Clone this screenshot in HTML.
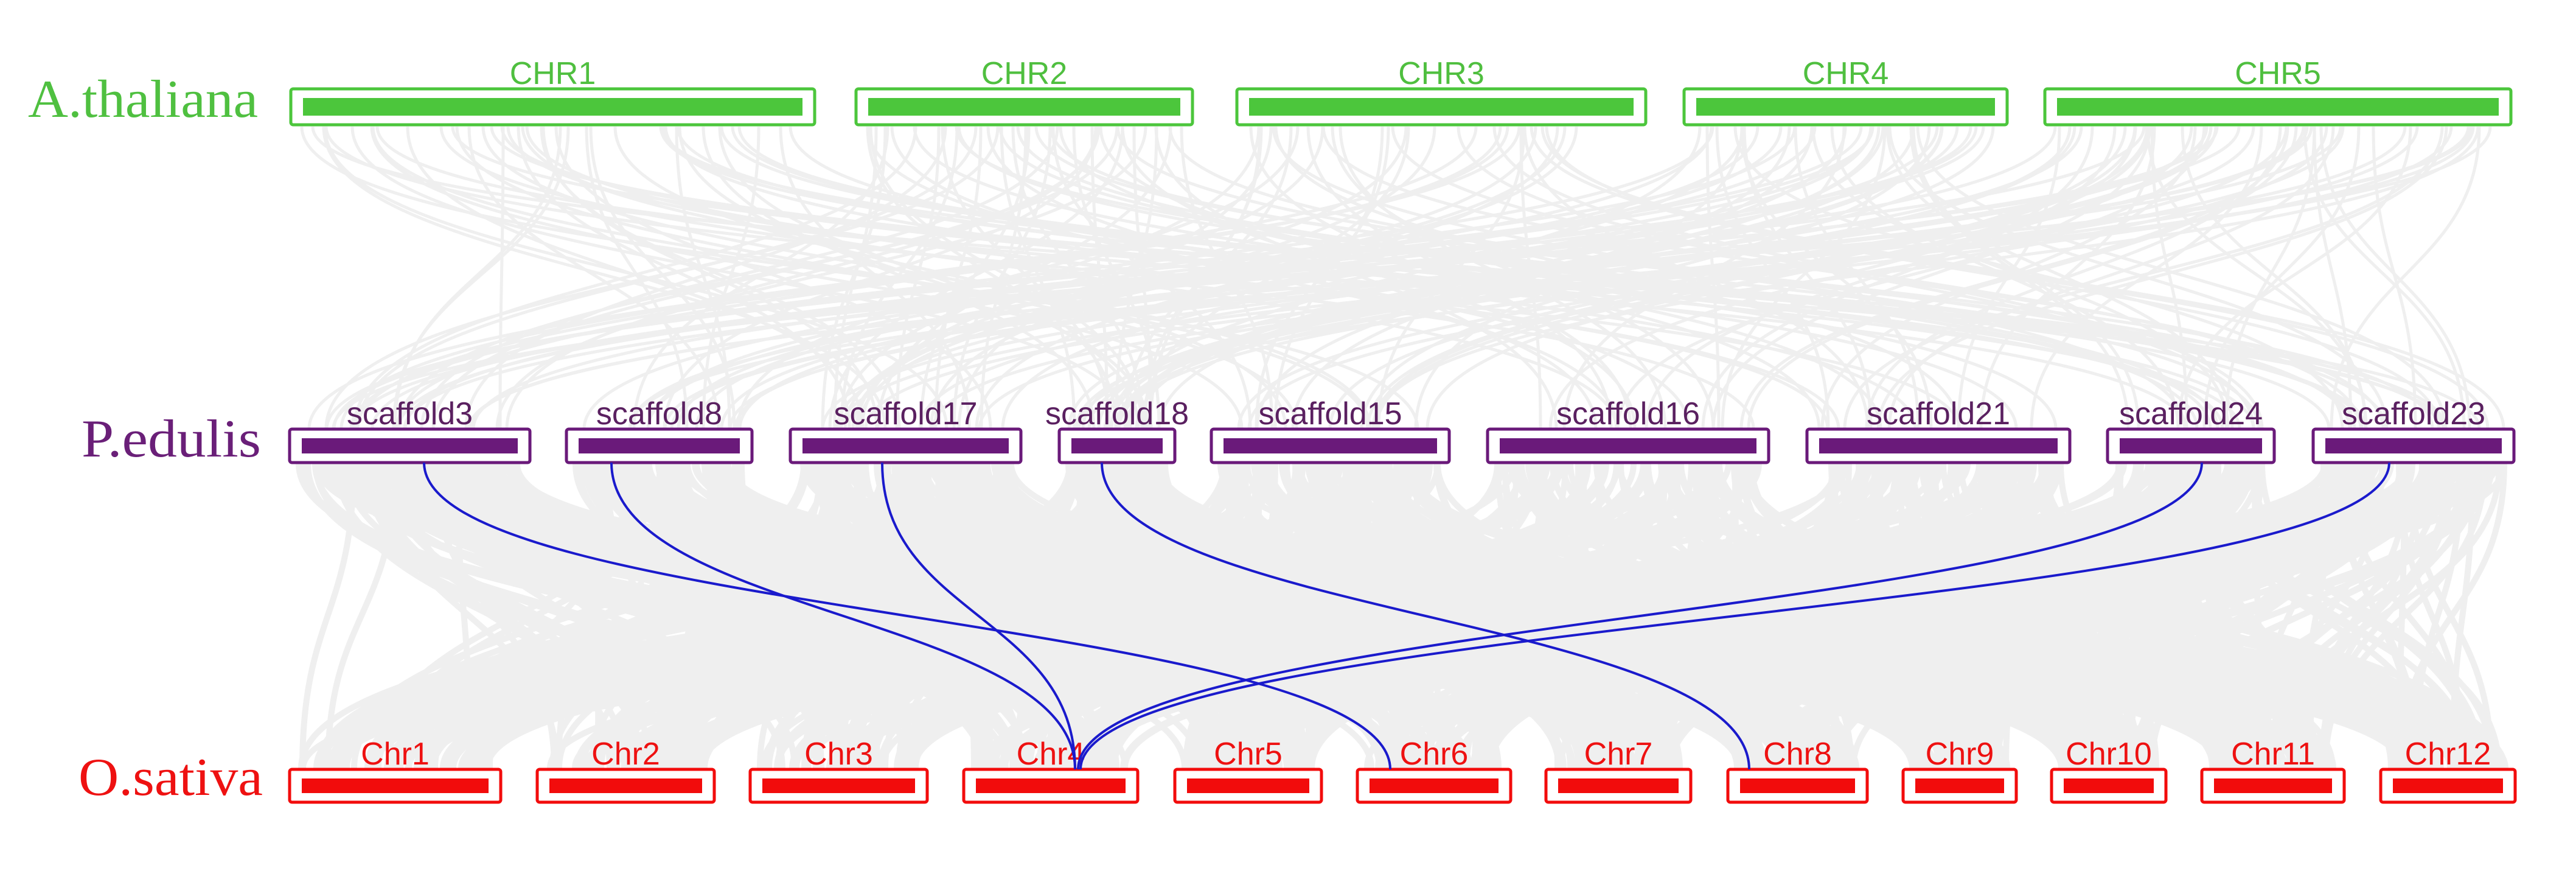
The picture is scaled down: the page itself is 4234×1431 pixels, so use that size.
<!DOCTYPE html>
<html><head><meta charset="utf-8">
<style>html,body{margin:0;padding:0;background:#fff}svg{display:block}</style>
</head><body>
<svg id="s" width="4234" height="1431" viewBox="0 0 4234 1431" xmlns="http://www.w3.org/2000/svg">
<rect width="4234" height="1431" fill="#fff"/>
<g id="gray" fill="none" stroke="#efefef" stroke-width="5"></g>
<g id="struct"></g>
<g fill="none" stroke="#1a1acc" stroke-width="4">
<path d="M697 760 C697 1012 2285 1012 2285 1264"/>
<path d="M1005 760 C1005 1012 1767 1012 1767 1264"/>
<path d="M1450 760 C1450 1012 1767 1012 1767 1264"/>
<path d="M1811 760 C1811 1012 2875 1012 2875 1264"/>
<path d="M3619 760 C3619 1012 1772 1012 1772 1264"/>
<path d="M3927 760 C3927 1012 1776 1012 1776 1264"/>
</g>
<g font-family="Liberation Serif, serif" font-size="88">
<text x="46" y="192" fill="#4fc040" textLength="378" lengthAdjust="spacingAndGlyphs">A.thaliana</text>
<text x="134" y="750" fill="#6a1f78" textLength="295" lengthAdjust="spacingAndGlyphs">P.edulis</text>
<text x="129" y="1306" fill="#ee1111" textLength="303" lengthAdjust="spacingAndGlyphs">O.sativa</text>
</g>
</svg>
<script>
(function(){
var NS="http://www.w3.org/2000/svg";
var top=[["CHR1",478,1339],["CHR2",1407,1960],["CHR3",2033,2705],["CHR4",2768,3299],["CHR5",3361,4127]];
var mid=[["scaffold3",476,871],["scaffold8",931,1236],["scaffold17",1299,1678],["scaffold18",1741,1931],["scaffold15",1991,2382],["scaffold16",2445,2907],["scaffold21",2970,3402],["scaffold24",3464,3738],["scaffold23",3802,4132]];
var bot=[["Chr1",476,823],["Chr2",883,1174],["Chr3",1233,1524],["Chr4",1584,1870],["Chr5",1931,2172],["Chr6",2231,2483],["Chr7",2541,2779],["Chr8",2840,3069],["Chr9",3128,3314],["Chr10",3372,3560],["Chr11",3619,3853],["Chr12",3913,4134]];
var seed=12345;function r(){seed=(seed*16807)%2147483647;return seed/2147483647;}
var g=document.getElementById("gray");
function pick(a){var c=a[Math.floor(r()*a.length)];return c[1]+15+r()*(c[2]-c[1]-30);}
var d="";
for(var i=0;i<230;i++){var x1=pick(top),x2=pick(mid);d+="M"+x1.toFixed(0)+" 208C"+x1.toFixed(0)+" 450 "+x2.toFixed(0)+" 450 "+x2.toFixed(0)+" 705";}
var p=document.createElementNS(NS,"path");p.setAttribute("d",d);g.appendChild(p);
d="";
for(var i=0;i<1000;i++){var x1=pick(mid),x2=pick(bot);d+="M"+x1.toFixed(0)+" 762C"+x1.toFixed(0)+" 1010 "+x2.toFixed(0)+" 1010 "+x2.toFixed(0)+" 1262";}
p=document.createElementNS(NS,"path");p.setAttribute("d",d);p.setAttribute("stroke","#efefef");p.setAttribute("stroke-width","10");g.appendChild(p);
var st=document.getElementById("struct");
function row(a,y1,y2,ly,col,fs,tc){a.forEach(function(c){
 var o=document.createElementNS(NS,"rect");o.setAttribute("x",c[1]);o.setAttribute("y",y1);o.setAttribute("width",c[2]-c[1]);o.setAttribute("height",y2-y1);o.setAttribute("rx",4);o.setAttribute("fill","#fff");o.setAttribute("stroke",col);o.setAttribute("stroke-width",5);st.appendChild(o);
 var b=document.createElementNS(NS,"rect");b.setAttribute("x",c[1]+20);b.setAttribute("y",y1+15);b.setAttribute("width",c[2]-c[1]-40);b.setAttribute("height",y2-y1-30);b.setAttribute("fill",col);st.appendChild(b);
 var t=document.createElementNS(NS,"text");t.setAttribute("x",(c[1]+c[2])/2);t.setAttribute("y",ly);t.setAttribute("text-anchor","middle");t.setAttribute("font-family","Liberation Sans, sans-serif");t.setAttribute("font-size",fs);t.setAttribute("fill",tc);t.textContent=c[0];st.appendChild(t);
});}
row(top,146,205,138,"#4cc63c",52,"#4fbf3f");
row(mid,705,760,697,"#6a1a7a",52,"#5a2060");
row(bot,1264,1318,1256,"#f20c0c",52,"#ee1111");
})();
</script>
</body></html>
